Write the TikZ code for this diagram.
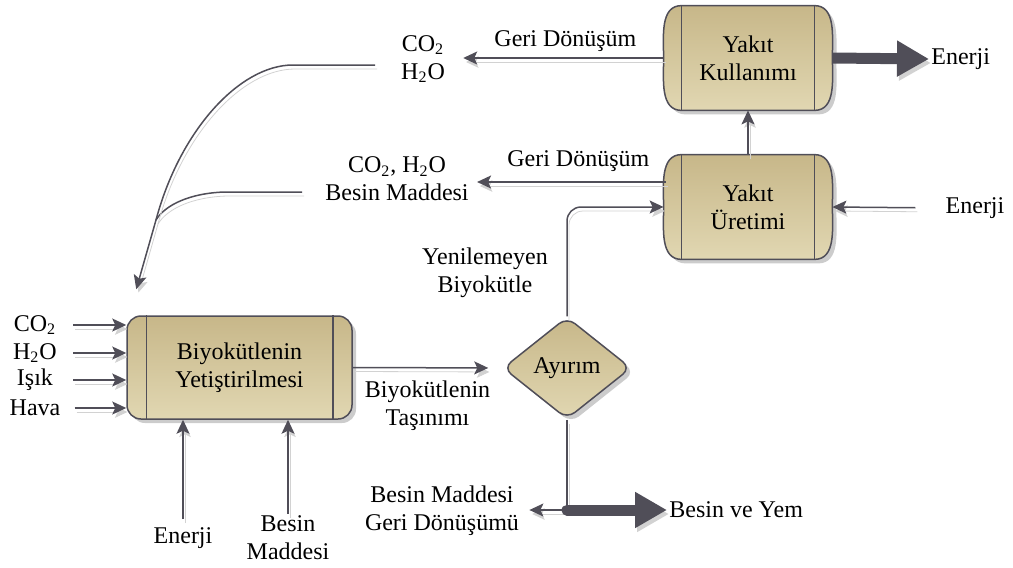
\documentclass[tikz,border=0pt]{standalone}
\usepackage{fontspec}
\setmainfont{Liberation Serif}
\newfontfamily\diafont{Liberation Serif}
\usetikzlibrary{arrows.meta,shapes.geometric,shadows,backgrounds,calc}

\definecolor{lineclr}{RGB}{80,78,88}
\definecolor{shadclr}{RGB}{210,210,210}
\definecolor{tanA}{RGB}{199,183,137}
\definecolor{tanB}{RGB}{225,215,178}

\tikzset{
  lbl/.style={align=center, inner sep=1pt, font=\diafont\fontsize{12}{14}\selectfont},
  inlbl/.style={lbl, minimum width=26pt},
  flow/.style={draw=lineclr, line width=0.75pt, -{Stealth[length=7pt,width=6.5pt,inset=1.5pt]},
    preaction={draw=shadclr, transform canvas={shift={(1pt,-2pt)}}}},
  bigflow/.style={draw=lineclr, line width=5.5pt, -{Triangle[length=16pt,width=17pt]},
    preaction={draw=shadclr, transform canvas={shift={(1pt,-2pt)}}}},
  boxshadow/.style={drop shadow={shadow xshift=2pt, shadow yshift=-2pt, fill=black!40, opacity=0.5}},
  drumnode/.style={lbl, minimum width=66pt, minimum height=52pt, inner sep=0pt},
  drumshape/.style={draw=lineclr, line width=0.75pt, top color=tanA, bottom color=tanB, boxshadow},
  procbox/.style={lbl, draw=lineclr, line width=0.75pt, rounded corners=7pt, top color=tanA,
    bottom color=tanB, boxshadow, minimum width=112.5pt, minimum height=51.5pt},
  decision/.style={lbl, diamond, aspect=1.26, draw=lineclr, line width=0.75pt, rounded corners=5pt,
    top color=tanA, bottom color=tanB, boxshadow, minimum width=64pt, minimum height=51pt, inner sep=0pt}
}

\begin{document}
\begin{tikzpicture}[x=0.5pt, y=-0.5pt]
\useasboundingbox (0,0) rectangle (1013,568);

% kutular
\node[drumnode] (kul) at (748,58) {Yakıt\\Kullanımı};
\node[drumnode] (ure) at (748,207) {Yakıt\\Üretimi};
\node[procbox] (yet) at (239.5,367.5) {Biyokütlenin\\Yetiştirilmesi};
\node[decision] (ayr) at (567,368) {Ayırım};

\begin{scope}[on background layer]
\draw[drumshape] (kul.north west) -- (kul.north east) to[out=0,in=90] ++(18,52) to[out=-90,in=0] (kul.south east)
  -- (kul.south west) to[out=180,in=-90] ++(-18,-52) to[out=90,in=180] (kul.north west) -- cycle;
\draw[drumshape] (ure.north west) -- (ure.north east) to[out=0,in=90] ++(18,52) to[out=-90,in=0] (ure.south east)
  -- (ure.south west) to[out=180,in=-90] ++(-18,-52) to[out=90,in=180] (ure.north west) -- cycle;
\end{scope}
\draw[lineclr, line width=0.75pt] (kul.north west) -- (kul.south west) (kul.north east) -- (kul.south east);
\draw[lineclr, line width=0.75pt] (ure.north west) -- (ure.south west) (ure.north east) -- (ure.south east);
\draw[lineclr, line width=0.75pt] ([xshift=10pt]yet.north west) -- ([xshift=10pt]yet.south west);
\draw[lineclr, line width=0.75pt] ([xshift=-10pt]yet.north east) -- ([xshift=-10pt]yet.south east);

% etiketler
\node[lbl, anchor=west] (enr1) at (929,59) {Enerji};
\node[lbl] (enr2) at (975,208) {Enerji};
\node[lbl] (co2a) at (423,59) {CO\textsubscript{2}\\H\textsubscript{2}O};
\node[lbl] (besa) at (397,179) {CO\textsubscript{2}, H\textsubscript{2}O\\Besin Maddesi};
\node[lbl] (yen) at (485,273) {Yenilemeyen\\Biyokütle};
\node[inlbl] (in1) at (35,325) {CO\textsubscript{2}};
\node[inlbl] (in2) at (35,353) {H\textsubscript{2}O};
\node[inlbl] (in3) at (35,380) {Işık};
\node[inlbl] (in4) at (35,408) {Hava};
\node[lbl] (enb) at (183,538) {Enerji};
\node[lbl] (bsb) at (288,538) {Besin\\Maddesi};
\node[lbl] (bgd) at (442,511) {Besin Maddesi\\Geri Dönüşümü};
\node[lbl, anchor=west] (yem) at (667,510) {Besin ve Yem};

% oklar
\draw[bigflow] ([xshift=9pt]kul.east) -- (enr1.west);
\draw[flow] (ure.north) -- (kul.south);
\draw[flow, shorten <=14pt] (enr2.west) -- ([xshift=9pt]ure.east);
\draw[flow, shorten >=8pt] ([xshift=-9pt]kul.west) -- (co2a.east |- kul.west)
  node[lbl, midway, above=2pt, xshift=5pt] (gd1) {Geri Dönüşüm};
\coordinate (gdout) at ($(ure.west)+(-16,-25)$);
\draw[flow, shorten >=3pt] (gdout) -- (gdout -| besa.east)
  node[lbl, midway, above=4pt, xshift=5pt] (gd2) {Geri Dönüşüm};

\coordinate (ret1) at (375,65);
\coordinate (ret2) at (302,192);
\coordinate (join) at (156,220);
\draw[flow, -] (ret2) -- (225,192) .. controls (190,193) and (165,205) .. (join);
\draw[flow] (ret1) -- (293,65) .. controls (240,65) and (180,130) .. (join) -- ([xshift=5pt,yshift=13pt]yet.north west);

\draw[flow, shorten <=6pt] (in1.east) -- (in1.east -| yet.west);
\draw[flow, shorten <=6pt] (in2.east) -- (in2.east -| yet.west);
\draw[flow, shorten <=6pt] (in3.east) -- (in3.east -| yet.west);
\draw[flow, shorten <=6pt] (in4.east) -- (in4.east -| yet.west);
\draw[flow, shorten <=3pt] (enb.north) -- (enb.north |- yet.south);
\draw[flow] (bsb.north) -- (bsb.north |- yet.south);

\draw[flow, shorten >=7pt] (yet.east) -- (ayr.west)
  node[lbl, midway, below=5pt] (tas) {Biyokütlenin\\Taşınımı};
\draw[flow, rounded corners=7pt] (ayr.north) |- ([xshift=-9pt]ure.west);

\coordinate (split) at (567,510);
\draw[flow, shorten >=4pt] (split) -- (bgd.east |- split);
\draw[flow, -] (ayr.south) -- (split);
\draw[bigflow, line cap=round] (split) -- (yem.west);
\end{tikzpicture}
\end{document}
